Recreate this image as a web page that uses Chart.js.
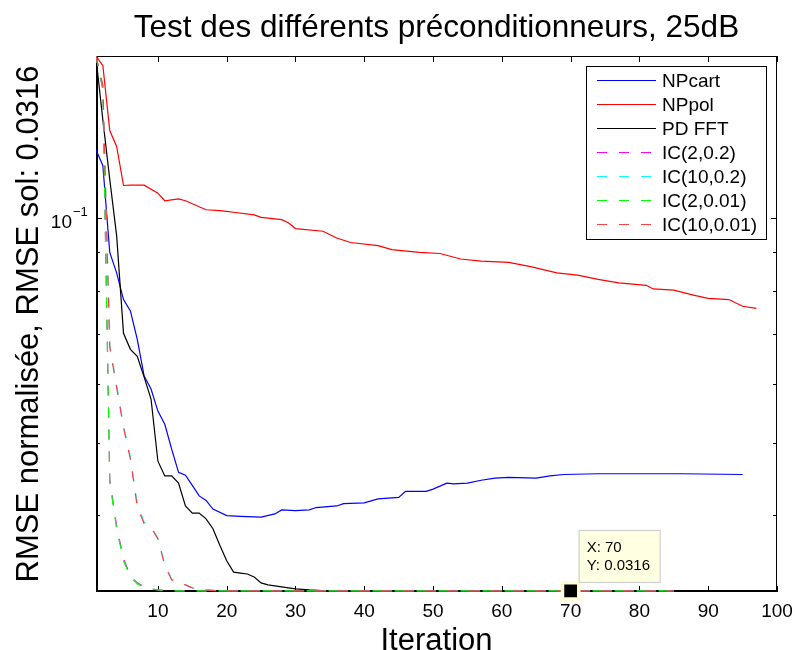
<!DOCTYPE html>
<html lang="fr">
<head>
  <meta charset="UTF-8" />
  <title>Test des différents préconditionneurs, 25dB</title>
  <script src="https://cdn.jsdelivr.net/npm/chart.js"></script>
  <style>
    body {
      margin: 0;
      background: #fff;
    }
    canvas {
      display: block;
    }
  </style>
</head>
<body>
  <canvas id="rmseChart" width="795" height="650"></canvas>

  <script>
    const FONT = "'Liberation Sans', Arial, Helvetica, sans-serif";

    // RMSE per iteration
    const npcartIter = [1, 2, 3, 4, 5, 6, 7, 8, 9, 10, 11, 12, 13, 14, 15, 16, 17, 18, 20, 22, 25, 27, 28, 30, 32, 33, 36, 37, 40, 42, 45, 46, 49, 50, 52, 53, 55, 57, 59, 61, 65, 67, 69, 74, 81, 86, 95];
    const npcartRmse = [0.1236, 0.1177, 0.0900, 0.0845, 0.0778, 0.0751, 0.0688, 0.0614, 0.0590, 0.0551, 0.0529, 0.0490, 0.0456, 0.0452, 0.0438, 0.0424, 0.0418, 0.0407, 0.0399, 0.0398, 0.0397, 0.0401, 0.0406, 0.0405, 0.0406, 0.0409, 0.0411, 0.0414, 0.0415, 0.0420, 0.0422, 0.0430, 0.0430, 0.0433, 0.0441, 0.0440, 0.0441, 0.0445, 0.0448, 0.0449, 0.0448, 0.0451, 0.0453, 0.0454, 0.0454, 0.0454, 0.0453];

    const nppolIter = [1, 2, 3, 4, 5, 6, 8, 10, 11, 13, 14, 17, 19, 20, 21, 24, 25, 28, 29, 30, 34, 36, 38, 42, 44, 48, 51, 54, 57, 61, 64, 68, 71, 74, 77, 81, 82, 85, 88, 90, 93, 95, 97];
    const nppolRmse = [0.1652, 0.1603, 0.1312, 0.1249, 0.1107, 0.1108, 0.1108, 0.1081, 0.1056, 0.1062, 0.1056, 0.1027, 0.1024, 0.1022, 0.1019, 0.1011, 0.1003, 0.0996, 0.0986, 0.0969, 0.0961, 0.0941, 0.0928, 0.0919, 0.0908, 0.0900, 0.0897, 0.0882, 0.0876, 0.0873, 0.0862, 0.0845, 0.0839, 0.0828, 0.0819, 0.0813, 0.0804, 0.0801, 0.0788, 0.0781, 0.0778, 0.0762, 0.0757];

    const pdfftIter = [1, 2, 3, 4, 5, 6, 7, 8, 9, 10, 11, 12, 13, 14, 15, 16, 17, 18, 19, 20, 21, 22, 23, 24, 25, 26, 27, 28, 29, 30, 32, 35, 95];
    const pdfftRmse = [0.1642, 0.1355, 0.1128, 0.0948, 0.0701, 0.0667, 0.0653, 0.0612, 0.0572, 0.0472, 0.0451, 0.0451, 0.0441, 0.0411, 0.0402, 0.0402, 0.0395, 0.0383, 0.0364, 0.0347, 0.0335, 0.0334, 0.0333, 0.0330, 0.0324, 0.0322, 0.0321, 0.0320, 0.0319, 0.0318, 0.0317, 0.0316, 0.0316];

    const icFastIter = [1, 2, 3, 4, 5, 6, 7, 8, 9, 10, 12, 85];
    const ic2_02Rmse = [0.1650, 0.1490, 0.0446, 0.0386, 0.0349, 0.0331, 0.0324, 0.0320, 0.0318, 0.0317, 0.0316, 0.0316];
    const ic2_001Rmse = [0.1650, 0.1496, 0.0443, 0.0383, 0.0347, 0.0330, 0.0323, 0.0320, 0.0318, 0.0317, 0.0316, 0.0316];

    const icSlowIter = [1, 2, 3, 4, 5, 6, 7, 8, 9, 10, 11, 12, 13, 14, 15, 16, 17, 19, 85];
    const ic10_02Rmse = [0.1650, 0.1505, 0.0676, 0.0597, 0.0527, 0.0478, 0.0413, 0.0391, 0.0386, 0.0372, 0.0343, 0.0328, 0.0324, 0.0322, 0.0319, 0.0318, 0.0317, 0.0316, 0.0316];
    const ic10_001Rmse = [0.1650, 0.1510, 0.0672, 0.0593, 0.0524, 0.0475, 0.0410, 0.0389, 0.0385, 0.0371, 0.0342, 0.0327, 0.0324, 0.0322, 0.0319, 0.0318, 0.0317, 0.0316, 0.0316];

    const xTicks = [10, 20, 30, 40, 50, 60, 70, 80, 90, 100];
    const yMinorTicks = [0.04, 0.05, 0.06, 0.07, 0.08, 0.09];
    const yMajorTicks = [0.1];

    // data tip
    const tipX = 70;
    const tipY = 0.0316;

    function toPoints(xs, ys) {
      return xs.map((x, i) => ({ x: x, y: ys[i] }));
    }

    function line(label, xs, ys, color, order, dashed) {
      return {
        label: label,
        data: toPoints(xs, ys),
        borderColor: color,
        borderWidth: 1.2,
        borderDash: dashed ? [10, 12] : [],
        pointRadius: 0,
        tension: 0,
        fill: false,
        order: order
      };
    }

    // axes box, inward ticks, 10^-1 label, legend and data tip
    const matlabAxes = {
      id: "matlabAxes",
      beforeDatasetsDraw(chart) {
        const { ctx, chartArea: a, scales: { x, y } } = chart;
        ctx.save();
        ctx.strokeStyle = "#000";
        ctx.lineWidth = 1;
        ctx.strokeRect(a.left + 0.5, a.top + 0.5, a.right - a.left - 1, a.bottom - a.top - 1);
        ctx.lineWidth = 2;
        ctx.beginPath();
        ctx.moveTo(a.left + 1, a.top);
        ctx.lineTo(a.left + 1, a.bottom - 1);
        ctx.lineTo(a.right, a.bottom - 1);
        ctx.stroke();

        ctx.lineWidth = 1;
        ctx.beginPath();
        xTicks.forEach(v => {
          const px = Math.round(x.getPixelForValue(v)) + 0.5;
          ctx.moveTo(px, a.bottom);
          ctx.lineTo(px, a.bottom - 6);
          ctx.moveTo(px, a.top);
          ctx.lineTo(px, a.top + 6);
        });
        yMinorTicks.forEach(v => {
          const py = Math.round(y.getPixelForValue(v)) + 0.5;
          ctx.moveTo(a.left, py);
          ctx.lineTo(a.left + 4, py);
          ctx.moveTo(a.right, py);
          ctx.lineTo(a.right - 4, py);
        });
        yMajorTicks.forEach(v => {
          const py = Math.round(y.getPixelForValue(v)) + 0.5;
          ctx.moveTo(a.left, py);
          ctx.lineTo(a.left + 6, py);
          ctx.moveTo(a.right, py);
          ctx.lineTo(a.right - 6, py);
        });
        ctx.stroke();

        ctx.fillStyle = "#000";
        ctx.textBaseline = "middle";
        yMajorTicks.forEach(v => {
          const py = y.getPixelForValue(v);
          const exp = Math.round(Math.log10(v));
          ctx.font = "19px " + FONT;
          ctx.textAlign = "right";
          ctx.fillText("10", a.left - 24, py + 4);
          ctx.font = "13px " + FONT;
          ctx.textAlign = "left";
          ctx.fillText(exp < 0 ? "\u2212" + (-exp) : String(exp), a.left - 23, py - 6);
        });
        ctx.restore();
      },
      afterDatasetsDraw(chart) {
        const { ctx, chartArea: a, scales: { x, y } } = chart;
        ctx.save();

        // legend
        const series = chart.data.datasets.filter(d => d.label);
        const lw = 180, lh = 173;
        const lx = a.right - 11 - lw, ly = a.top + 10;
        ctx.fillStyle = "#fff";
        ctx.fillRect(lx, ly, lw, lh);
        ctx.strokeStyle = "#000";
        ctx.lineWidth = 1;
        ctx.strokeRect(lx + 0.5, ly + 0.5, lw, lh);
        ctx.font = "19px " + FONT;
        ctx.textBaseline = "middle";
        ctx.textAlign = "left";
        series.forEach((d, i) => {
          const ry = ly + 14.5 + i * 24;
          ctx.strokeStyle = d.borderColor;
          ctx.lineWidth = 1.2;
          ctx.setLineDash(d.borderDash);
          ctx.beginPath();
          ctx.moveTo(lx + 11, ry);
          ctx.lineTo(lx + 70, ry);
          ctx.stroke();
          ctx.setLineDash([]);
          ctx.fillStyle = "#000";
          ctx.fillText(d.label, lx + 76, ry + 1);
        });

        // data tip box
        const mx = x.getPixelForValue(tipX);
        const my = y.getPixelForValue(tipY);
        const bx = mx + 8, by = my - 61;
        ctx.fillStyle = "#ffffe1";
        ctx.fillRect(bx, by, 81, 52);
        ctx.strokeStyle = "#cfcfcf";
        ctx.strokeRect(bx + 0.5, by + 0.5, 81, 52);
        ctx.fillStyle = "#000";
        ctx.font = "15px " + FONT;
        ctx.fillText("X: " + tipX, bx + 8, by + 18);
        ctx.fillText("Y: " + tipY, bx + 8, by + 36);
        ctx.restore();
      }
    };

    new Chart(document.getElementById("rmseChart"), {
      type: "line",
      data: {
        datasets: [
          line("NPcart", npcartIter, npcartRmse, "#0000ff", 7, false),
          line("NPpol", nppolIter, nppolRmse, "#ff0000", 6, false),
          line("PD FFT", pdfftIter, pdfftRmse, "#000000", 5, false),
          line("IC(2,0.2)", icFastIter, ic2_02Rmse, "#ff00ff", 4, true),
          line("IC(10,0.2)", icSlowIter, ic10_02Rmse, "#00ffff", 3, true),
          line("IC(2,0.01)", icFastIter, ic2_001Rmse, "#00ff00", 2, true),
          line("IC(10,0.01)", icSlowIter, ic10_001Rmse, "#ff4040", 1, true),
          {
            data: [{ x: tipX, y: tipY }],
            showLine: false,
            pointStyle: "rect",
            pointRadius: 11.5,
            pointBackgroundColor: "#000",
            pointBorderColor: "#ffffd2",
            pointBorderWidth: 3.5,
            clip: false,
            order: 0
          }
        ]
      },
      options: {
        responsive: false,
        animation: false,
        events: [],
        layout: { padding: { left: 0, right: 18, top: 0, bottom: 0 } },
        plugins: {
          legend: { display: false },
          tooltip: { enabled: false },
          title: {
            display: true,
            text: "Test des différents préconditionneurs, 25dB",
            fullSize: false,
            color: "#000",
            font: { family: FONT, size: 31.5, weight: "normal", lineHeight: 1.2 },
            padding: { top: 9.4, bottom: 8.8 }
          }
        },
        scales: {
          x: {
            type: "linear",
            min: 1,
            max: 100,
            grid: { display: false },
            border: { display: false },
            afterBuildTicks: scale => {
              scale.ticks = xTicks.map(v => ({ value: v }));
            },
            afterFit: scale => {
              scale.height = 58;
              scale.paddingLeft = 0;
              scale.paddingRight = 0;
            },
            ticks: {
              color: "#000",
              padding: 0.6,
              maxRotation: 0,
              autoSkip: false,
              font: { family: FONT, size: 19, lineHeight: 1.2 }
            },
            title: {
              display: true,
              text: "Iteration",
              color: "#000",
              font: { family: FONT, size: 31, lineHeight: 0.55 },
              padding: 0
            }
          },
          y: {
            type: "logarithmic",
            min: 0.0315,
            max: 0.1652,
            grid: { display: false },
            border: { display: false },
            ticks: { display: false },
            afterFit: scale => {
              scale.width = 96;
            },
            title: {
              display: true,
              text: "RMSE normalisée, RMSE sol: 0.0316",
              color: "#000",
              font: { family: FONT, size: 31, lineHeight: 1.2 },
              padding: { top: 10.4, bottom: 0 }
            }
          }
        }
      },
      plugins: [matlabAxes]
    });
  </script>
</body>
</html>
